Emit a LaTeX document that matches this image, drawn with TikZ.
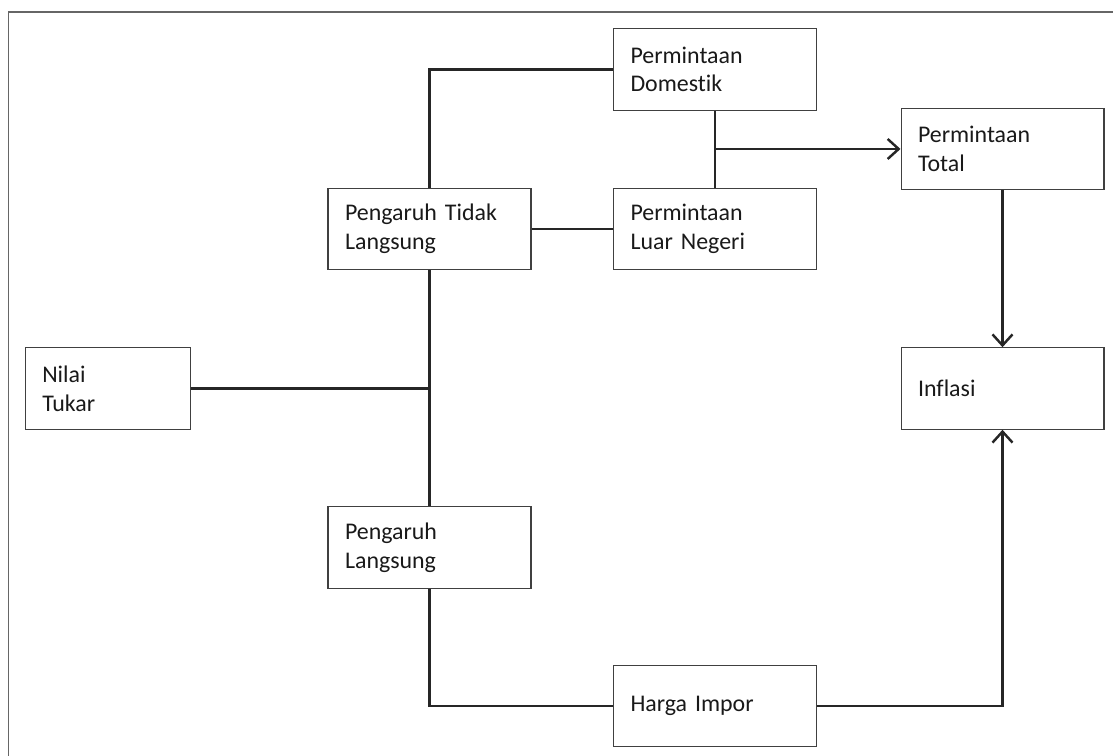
\documentclass[tikz,border=0pt]{standalone}
\usepackage{fontspec}
\setmainfont{Carlito}[Ligatures={NoCommon,NoRare}]
\usetikzlibrary{arrows.meta}
\tikzset{
    box/.style={rectangle, draw=black!75, line width=0.6pt, minimum width=4.06cm, minimum height=1.63cm,
        text width=3.38cm, inner xsep=0.34cm, align=left, text=black!90, font=\fontsize{13.6}{16.3}\selectfont},
    link/.style={line width=1.4pt, draw=black!85},
    tip/.style={-{Straight Barb[length=2.2mm,width=4mm,line width=1.4pt]}}
}
\begin{document}
\begin{tikzpicture}[x=0.02cm,y=-0.02cm]
        \useasboundingbox (0,0) rectangle (1113,756);
        % frame
            \draw[black!60, line width=0.8pt] (8.5,756) -- (8.5,12) -- (1113,12);
        % boxes
            \node[box] (dom) at (715,69.5) {Permintaan\\Domestik};
            \node[box] (luar) at (715,229) {Permintaan\\Luar Negeri};
            \node[box] (total) at (1002.5,149) {Permintaan\\Total};
            \node[box] (ptl) at (429.5,229) {Pengaruh Tidak\\Langsung};
            \node[box] (pl) at (429.5,547.5) {Pengaruh\\Langsung};
            \node[box, minimum width=3.31cm, text width=2.63cm] (nilai) at (108,388.5) {Nilai\\Tukar};
            \node[box] (inflasi) at (1002.5,388.5) {Inflasi};
            \node[box] (harga) at (715,706) {Harga Impor};
        % indirect path
            \draw[link] (ptl.north) |- (dom.west);
            \draw[link] (ptl.east) -- (luar.west);
            \draw[link] (dom.south) -- (luar.north);
            \draw[link,tip] (dom.south |- total.west) -- (total.west);
            \draw[link,tip] (total.south) -- (inflasi.north);
        % direct path
            \draw[link] (ptl.south) -- (pl.north);
            \draw[link] (nilai.east) -- (nilai.east -| ptl.south);
            \draw[link] (pl.south) |- (harga.west);
            \draw[link,tip] (harga.east) -| (inflasi.south);
        \end{tikzpicture}
\end{document}
